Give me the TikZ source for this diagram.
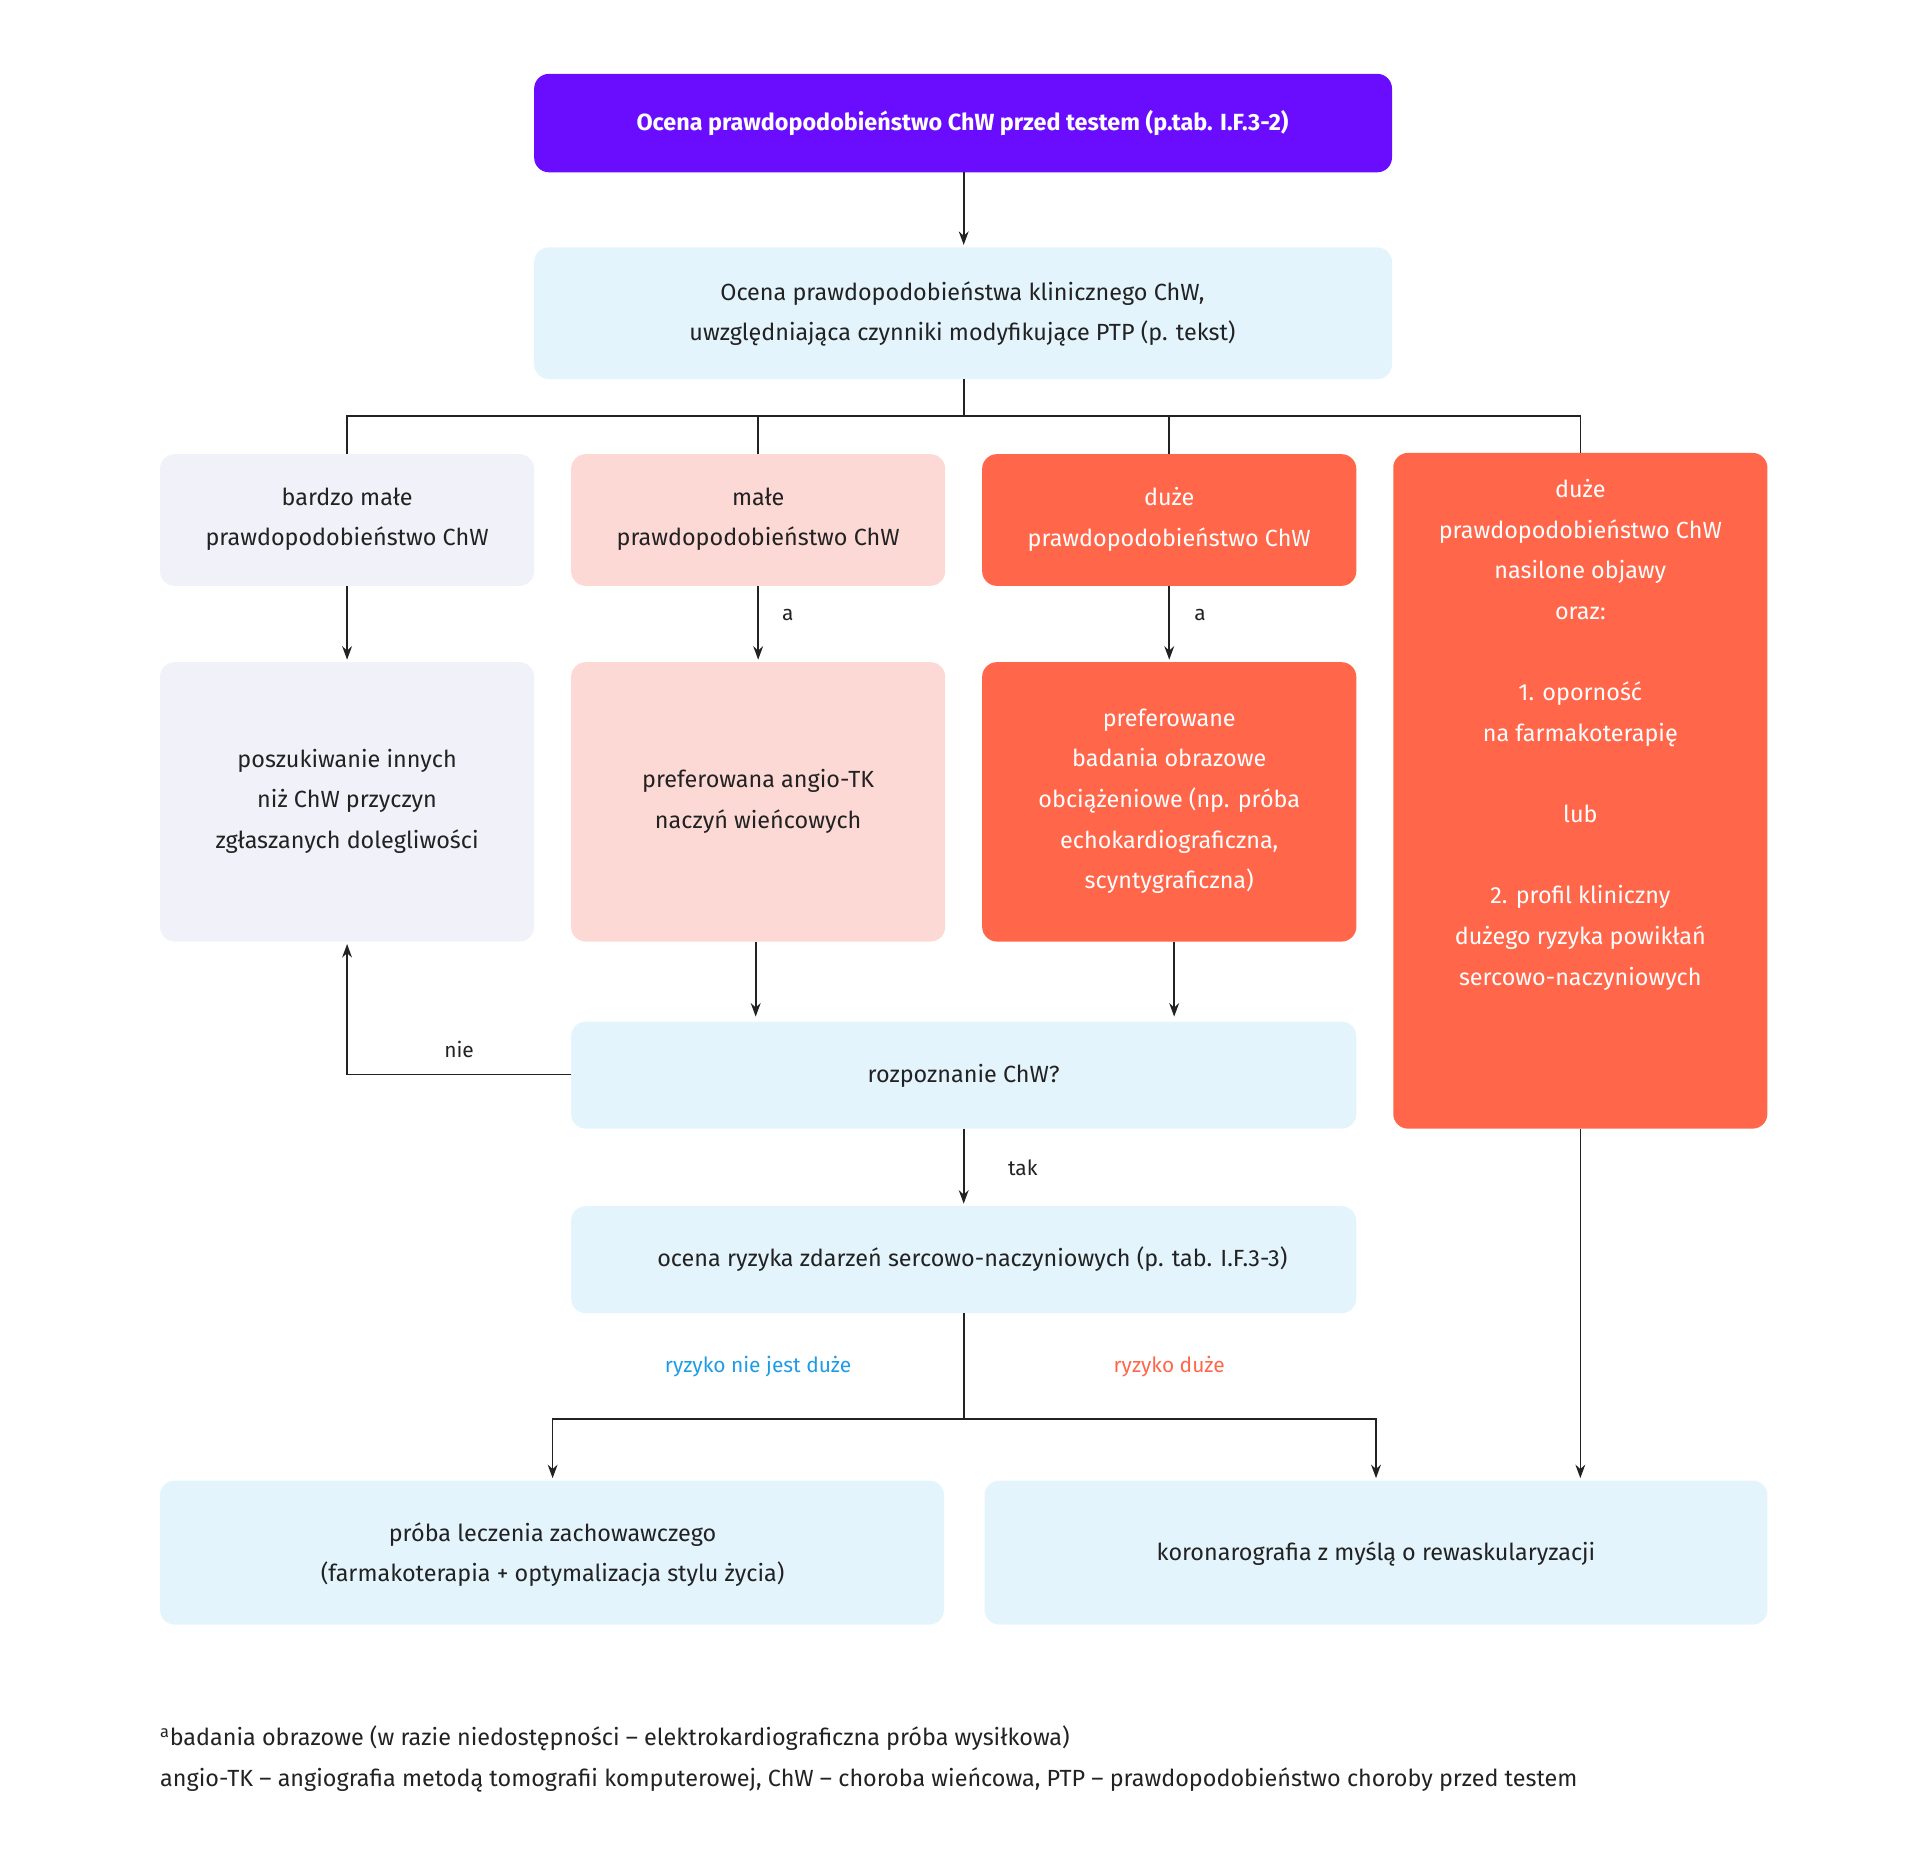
\documentclass[tikz,border=0pt]{standalone}
\usepackage{fontspec}
\setmainfont{Fira Sans}[Scale=1]
\usetikzlibrary{arrows.meta}
\definecolor{purp}{HTML}{6A0DFF}
\definecolor{lblue}{HTML}{E3F4FD}
\definecolor{lgray}{HTML}{F0F1F9}
\definecolor{pink}{HTML}{FDD9D6}
\definecolor{ored}{HTML}{FF664A}
\definecolor{bluet}{HTML}{1E9BE8}
\definecolor{txt}{HTML}{222222}
\begin{document}
\begin{tikzpicture}[x=1pt,y=-1pt,
  box/.style={draw=none,rounded corners=12pt,align=center,text=txt,font=\fontsize{19}{33}\selectfont,inner sep=0pt},
  ln/.style={draw=txt,line width=1.3pt},
  ar/.style={ln,-{Stealth[length=11pt,width=8pt]}},
  lab/.style={font=\fontsize{17}{20}\selectfont,text=txt}]
\useasboundingbox (0,0) rectangle (1560,1510);
\newcommand\bx[7]{\fill[#6,rounded corners=12pt] (#2,#3) rectangle (#4,#5);
  \node[box,text=#7] (#1) at ({(#2+#4)/2},{(#3+#5)/2}) {};
  \coordinate (#1-t) at ({(#2+#4)/2},#3);\coordinate (#1-b) at ({(#2+#4)/2},#5);}
\fill[purp,rounded corners=12pt] (434,60) rectangle (1131,140);
\node[box,text=white,font=\fontsize{19}{33}\selectfont\bfseries] (top) at (782,100) {Ocena prawdopodobieństwo ChW przed testem (p.tab. I.F.3-2)};
\fill[lblue,rounded corners=12pt] (434,201) rectangle (1131,308);
\node[box] (b2) at (782,255) {Ocena prawdopodobieństwa klinicznego ChW,\\uwzględniająca czynniki modyfikujące PTP (p. tekst)};
\fill[lgray,rounded corners=12pt] (130,369) rectangle (434,476);
\node[box] (r1a) at (282,422) {bardzo małe\\prawdopodobieństwo ChW};
\fill[pink,rounded corners=12pt] (464,369) rectangle (768,476);
\node[box] (r1b) at (616,422) {małe\\prawdopodobieństwo ChW};
\fill[ored,rounded corners=12pt] (798,369) rectangle (1102,476);
\node[box,text=white] (r1c) at (950,422) {duże\\prawdopodobieństwo ChW};
\fill[ored,rounded corners=12pt] (1132,368) rectangle (1436,917);
\node[box,text=white] (r1d) at (1284,597) {duże\\prawdopodobieństwo ChW\\nasilone objawy\\oraz:\\[33pt]1. oporność\\na farmakoterapię\\[33pt]lub\\[33pt]2. profil kliniczny\\dużego ryzyka powikłań\\sercowo-naczyniowych};
\fill[lgray,rounded corners=12pt] (130,538) rectangle (434,765);
\node[box] (r2a) at (282,651) {poszukiwanie innych\\niż ChW przyczyn\\zgłaszanych dolegliwości};
\fill[pink,rounded corners=12pt] (464,538) rectangle (768,765);
\node[box] (r2b) at (616,651) {preferowana angio-TK\\naczyń wieńcowych};
\fill[ored,rounded corners=12pt] (798,538) rectangle (1102,765);
\node[box,text=white] (r2c) at (950,651) {preferowane\\badania obrazowe\\obciążeniowe (np. próba\\echokardiograficzna,\\scyntygraficzna)};
\fill[lblue,rounded corners=12pt] (464,830) rectangle (1102,917);
\node[box] (rozp) at (783,874) {rozpoznanie ChW?};
\fill[lblue,rounded corners=12pt] (464,980) rectangle (1102,1067);
\node[box] (ocr) at (790,1023) {ocena ryzyka zdarzeń sercowo-naczyniowych (p. tab. I.F.3-3)};
\fill[lblue,rounded corners=12pt] (130,1203) rectangle (767,1320);
\node[box] (pl) at (449,1263) {próba leczenia zachowawczego\\(farmakoterapia + optymalizacja stylu życia)};
\fill[lblue,rounded corners=12pt] (800,1203) rectangle (1436,1320);
\node[box] (kor) at (1118,1263) {koronarografia z myślą o rewaskularyzacji};
% coordinates
\coordinate (s1) at (783,308); \coordinate (j1) at (783,338);
\draw[ln] (s1) -- (j1);
\draw[ln] (282,369) |- (1284,338) -- (1284,368);
\draw[ln] (616,338) -- (616,369);
\draw[ln] (950,338) -- (950,369);
\draw[ar] (783,140) -- (783,199);
\draw[ar] (282,476) -- (282,536);
\draw[ar] (616,476) -- (616,536);
\draw[ar] (950,476) -- (950,536);
\node[lab] (la1) at (640,500) {a};
\node[lab] (la2) at (975,500) {a};
\draw[ar] (614,765) -- (614,826);
\draw[ar] (954,765) -- (954,826);
\draw[ar] (464,873) -- (282,873) -- (282,767);
\node[lab] (nie) at (373,853) {nie};
\draw[ar] (783,917) -- (783,978);
\node[lab] (tak) at (831,949) {tak};
\draw[ln] (783,1067) -- (783,1153);
\draw[ar] (783,1153) -| (449,1201);
\draw[ar] (783,1153) -| (1118,1201);
\node[lab,text=bluet] (rn) at (616,1110) {ryzyko nie jest duże};
\node[lab,text=ored] (rd) at (950,1110) {ryzyko duże};
\draw[ar] (1284,917) -- (1284,1201);
\node[anchor=west,text=txt,font=\fontsize{19}{33}\selectfont,align=left,inner sep=0pt] (fn) at (130,1429) {\textsuperscript{a}badania obrazowe (w razie niedostępności – elektrokardiograficzna próba wysiłkowa)\\angio-TK – angiografia metodą tomografii komputerowej, ChW – choroba wieńcowa, PTP – prawdopodobieństwo choroby przed testem};
\end{tikzpicture}
\end{document}
